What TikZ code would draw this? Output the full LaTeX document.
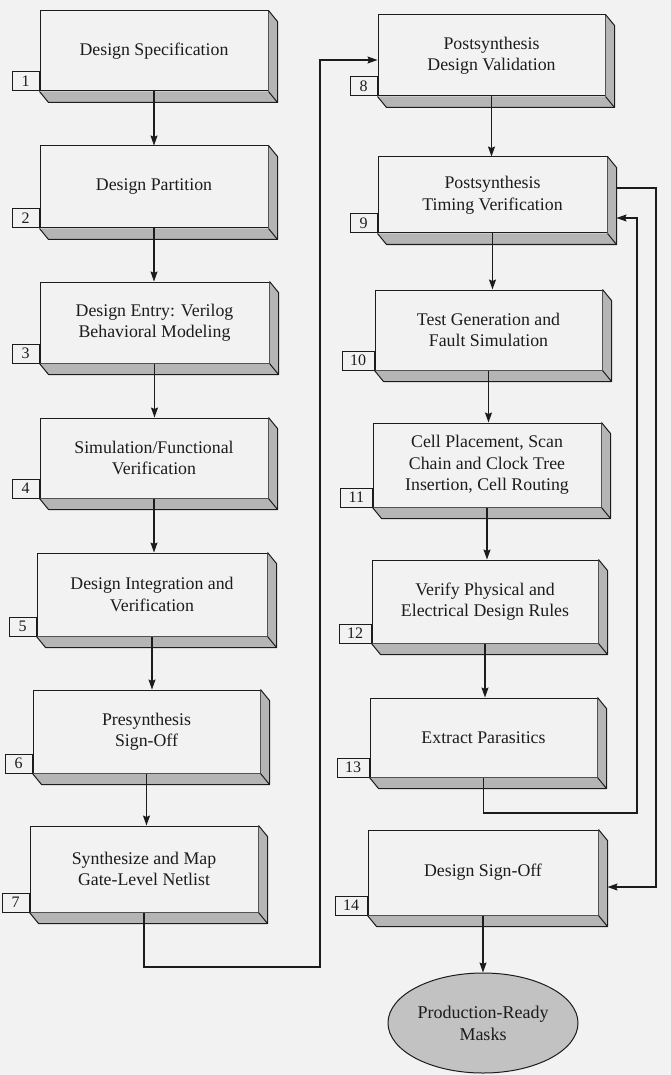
\documentclass[tikz,border=0pt]{standalone}
\usepackage{fontspec}
\setmainfont{Liberation Serif}
\usetikzlibrary{calc,arrows.meta,shapes.geometric}
\definecolor{paper}{HTML}{F2F2F2}
\definecolor{sidegray}{HTML}{B5B5B5}
\definecolor{ink}{HTML}{1C1C1C}
\definecolor{ellgray}{HTML}{C2C2C2}
\tikzset{
  front/.style={draw=ink, line width=1pt, fill=paper, inner sep=0pt, align=center,
    text=ink, font=\fontsize{17.8}{21.5}\selectfont},
  sideface/.style={fill=sidegray},
  edge/.style={draw=ink, line width=1pt, line join=round},
  numbox/.style={draw=ink, line width=1pt, fill=paper, inner xsep=8pt, inner ysep=0pt,
    minimum width=27pt, minimum height=19pt, text=ink, font=\fontsize{16}{18}\selectfont},
  arr/.style={draw=ink, line width=1.3pt, -{Stealth[length=10pt,width=7pt,inset=1.5pt]}},
  ellnode/.style={ellipse, draw=ink, line width=1pt, fill=ellgray, inner sep=0pt,
    minimum width=190pt, minimum height=100pt, align=center, text=ink,
    font=\fontsize{18}{22}\selectfont}
}
\newcommand{\blk}[7]{%
  \node[front, minimum width={(#4-#2)*1pt}, minimum height={(#5-#3)*1pt}] (#1)
     at ({(#2+#4)/2},{(#3+#5)/2}) {#7};
  \fill[sideface] (#1.north east) -- ++(9,11) -- ($(#1.south east)+(9,11)$)
     -- ($(#1.south west)+(9,11)$) -- (#1.south west) -- (#1.south east) -- cycle;
  \draw[edge] (#1.north east) -- ++(9,11) -- ($(#1.south east)+(9,11)$)
     -- ($(#1.south west)+(9,11)$) -- (#1.south west);
  \draw[edge] (#1.south east) -- ++(9,11);
  \coordinate (#1r) at ($(#1.east)+(9,0)$);
  \node[numbox, anchor=south east] (#1n) at (#1.south west) {#6};
}
\begin{document}
\begin{tikzpicture}[x=1pt,y=-1pt]
\fill[paper] (0,0) rectangle (671,1075);
\useasboundingbox (0,0) rectangle (671,1075);
% left column
\blk{b1}{40}{11}{268}{91}{1}{Design Specification}
\blk{b2}{40}{146}{268}{228}{2}{Design Partition}
\blk{b3}{40}{282}{269}{363}{3}{Design Entry: Verilog\\Behavioral Modeling}
\blk{b4}{40}{418}{268}{498}{4}{Simulation/Functional\\Verification}
\blk{b5}{37}{553}{267}{636}{5}{Design Integration and\\Verification}
\blk{b6}{33}{690}{260}{773}{6}{Presynthesis\\Sign-Off}
\blk{b7}{30}{826}{258}{912}{7}{Synthesize and Map\\Gate-Level Netlist}
% right column
\blk{b8}{378}{15}{605}{96}{8}{Postsynthesis\\Design Validation}
\blk{b9}{378}{157}{607}{233}{9}{Postsynthesis\\Timing Verification}
\blk{b10}{375}{290}{602}{370}{10}{Test Generation and\\Fault Simulation}
\blk{b11}{373}{423}{601}{507}{11}{Cell Placement, Scan\\Chain and Clock Tree\\Insertion, Cell Routing}
\blk{b12}{372}{560}{598}{643}{12}{Verify Physical and\\Electrical Design Rules}
\blk{b13}{370}{698}{597}{777}{13}{Extract Parasitics}
\blk{b14}{368}{830}{598}{915}{14}{Design Sign-Off}
\node[ellnode] (ell) at (483,1023) {Production-Ready\\Masks};
% helper coordinates
\coordinate (c1) at (320,967);
\coordinate (c2) at (320,60);
\coordinate (c3) at (637,813);
\coordinate (c4) at (637,218);
\coordinate (c5) at (656,188);
\coordinate (c6) at (656,887);
% vertical arrows left
\foreach \a/\b in {b1/b2,b2/b3,b3/b4,b4/b5,b5/b6,b6/b7}
  \draw[arr] (\a.south) -- (\a.south |- \b.north);
% vertical arrows right
\foreach \a/\b in {b8/b9,b9/b10,b10/b11,b11/b12,b12/b13}
  \draw[arr] (\a.south) -- (\a.south |- \b.north);
% long connector from 7 to 8
\draw[arr] (b7.south) |- (c1) -- (c2) -- (c2 -| b8.west);
% feedback 13 -> 9
\draw[arr] (b13.south) |- (c3) -- (c4) -- (c4 -| b9r);
% 9 -> 14
\draw[arr] (c5 -| b9r) -- (c5) -- (c6) -- (c6 -| b14r);
% 14 -> masks
\draw[arr] (b14.south) -- (b14.south |- ell.north);
\end{tikzpicture}
\end{document}
